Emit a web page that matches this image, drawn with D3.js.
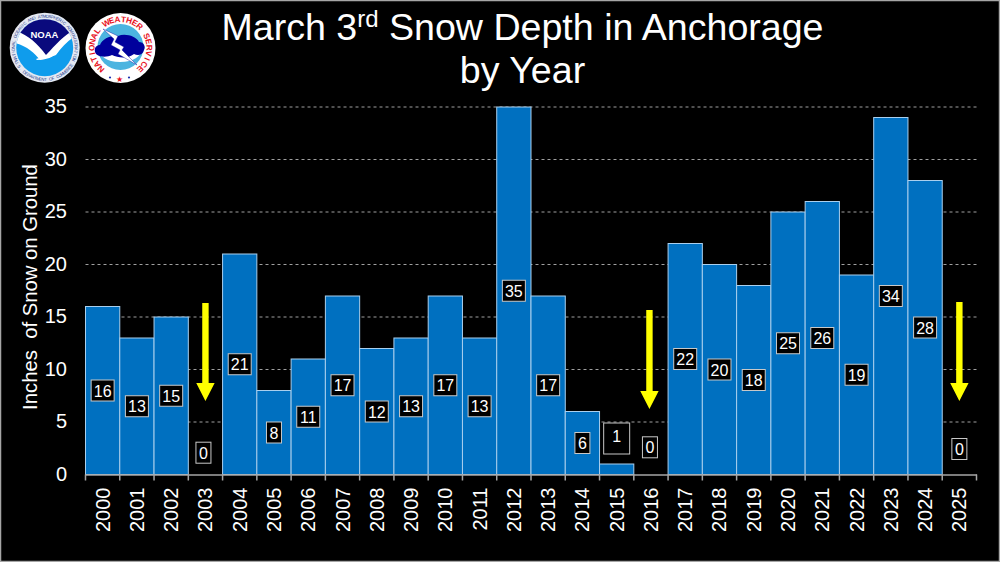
<!DOCTYPE html>
<html>
<head>
<meta charset="utf-8">
<script src="https://d3js.org/d3.v7.min.js"></script>
<style>
  html, body { margin: 0; padding: 0; background: #000; overflow: hidden; }
  svg { display: block; }
  text { font-family: "Liberation Sans", Arial, sans-serif; }
</style>
</head>
<body>
<script>
let years = ["2000","2001","2002","2003","2004","2005","2006","2007","2008","2009","2010","2011","2012",
  "2013","2014","2015","2016","2017","2018","2019","2020","2021","2022","2023","2024","2025"];
let snowDepth = [16,13,15,0,21,8,11,17,12,13,17,13,35,17,6,1,0,22,20,18,25,26,19,34,28,0];
let yTicks = [0,5,10,15,20,25,30,35];
let arrowYears = ["2003","2016","2025"];

let canvasW = 1000;
let canvasH = 562;
let plotL = 85.5, plotR = 976.5, plotT = 107, plotB = 474.5;

let svg = d3.select("body").append("svg")
  .attr("width", canvasW)
  .attr("height", canvasH)
  .style("background-color", "#000");

// thin grey frame around the slide
svg.append("rect")
  .attr("x", 0.5).attr("y", 0.5)
  .attr("width", canvasW - 1).attr("height", canvasH - 1)
  .attr("fill", "none").attr("stroke", "#a6a6a6").attr("stroke-width", 1.5);

let x = d3.scaleBand().domain(years).range([plotL, plotR]).padding(0);
let y = d3.scaleLinear().domain([0, 35]).range([plotB, plotT]);

// gridlines
svg.append("g").selectAll("line")
  .data(yTicks.filter(d => d > 0))
  .enter().append("line")
  .attr("x1", plotL).attr("x2", plotR)
  .attr("y1", d => y(d)).attr("y2", d => y(d))
  .attr("stroke", "#a0a0a0")
  .attr("stroke-width", 1)
  .attr("stroke-dasharray", "3,3");

// bars
svg.append("g").selectAll("rect")
  .data(years)
  .enter().append("rect")
  .attr("x", d => x(d))
  .attr("y", (d, i) => y(snowDepth[i]))
  .attr("width", x.bandwidth())
  .attr("height", (d, i) => plotB - y(snowDepth[i]))
  .attr("fill", "#0070c0")
  .attr("stroke", (d, i) => snowDepth[i] > 0 ? "#a9cfee" : "none")
  .attr("stroke-width", 1);

// y axis
let yAxis = svg.append("g")
  .attr("transform", "translate(" + plotL + ",-0.5)")
  .call(d3.axisLeft(y).tickValues(yTicks).tickSize(0).tickPadding(18.5));
yAxis.select(".domain").remove();
yAxis.selectAll("text")
  .attr("fill", "#fff")
  .attr("font-size", "20px")
  .style("font-family", '"Liberation Sans", Arial, sans-serif');

// x axis, labels rotated and ticks on the band edges
let xAxis = svg.append("g")
  .attr("transform", "translate(0," + plotB + ")")
  .call(d3.axisBottom(x).tickSize(0).tickPadding(0));
xAxis.select(".domain").attr("stroke", "#a6a6a6").attr("stroke-width", 1.5);
xAxis.selectAll("text")
  .attr("fill", "#fff")
  .attr("font-size", "20px")
  .attr("text-anchor", "end")
  .attr("dy", "0")
  .attr("transform", "translate(7,13) rotate(-90)")
  .attr("y", 0)
  .style("font-family", '"Liberation Sans", Arial, sans-serif');
xAxis.selectAll(".edge")
  .data(years.concat("end"))
  .enter().append("line")
  .attr("class", "edge")
  .attr("x1", d => d === "end" ? plotR : x(d))
  .attr("x2", d => d === "end" ? plotR : x(d))
  .attr("y1", 0).attr("y2", 6)
  .attr("stroke", "#a6a6a6").attr("stroke-width", 1.5);

svg.append("text")
  .attr("transform", "translate(37,287) rotate(-90)")
  .attr("text-anchor", "middle")
  .attr("font-size", "20.3px")
  .attr("fill", "#fff")
  .style("white-space", "pre")
  .text("Inches  of Snow on Ground");

// value boxes, middle of the bar, zero years float above the axis
let lowBox = { "2003": 452.7, "2015": 439, "2016": 447.3, "2025": 449 };
let boxShift = { "2003": -2, "2016": -1 };
let boxes = svg.append("g").selectAll("g")
  .data(years)
  .enter().append("g")
  .attr("transform", (d, i) => {
    let cx = x(d) + x.bandwidth() / 2 + (boxShift[d] || 0);
    let cy = lowBox[d] || y(snowDepth[i] / 2);
    return "translate(" + cx + "," + cy + ")";
  });
boxes.append("rect")
  .attr("x", (d, i) => d === "2015" ? -13 : (snowDepth[i] < 10 ? -7.5 : -11.5))
  .attr("y", d => d === "2015" ? -16 : -10.5)
  .attr("width", (d, i) => d === "2015" ? 26 : (snowDepth[i] < 10 ? 15 : 23))
  .attr("height", d => d === "2015" ? 31 : 21)
  .attr("fill", "#000")
  .attr("stroke", "#c8c8c8")
  .attr("stroke-width", 1);
boxes.append("text")
  .attr("text-anchor", "middle")
  .attr("y", d => d === "2015" ? 3 : 6)
  .attr("font-size", "16px")
  .attr("fill", "#fff")
  .text((d, i) => snowDepth[i]);

// yellow arrows over the zero years
let arrowTop = { "2003": 303, "2016": 310, "2025": 302 };
let arrowTip = { "2003": 401, "2016": 409, "2025": 401 };
let arrowOffset = { "2003": 0, "2016": -1.5, "2025": 0 };
svg.append("g").selectAll("path")
  .data(arrowYears)
  .enter().append("path")
  .attr("fill", "#ffff00")
  .attr("d", d => {
    let cx = x(d) + x.bandwidth() / 2 + arrowOffset[d];
    let t = arrowTop[d], b = arrowTip[d];
    return "M" + (cx - 3.2) + "," + t + "H" + (cx + 3.2) + "V" + (b - 18) + "H" + (cx + 9.2) +
      "L" + cx + "," + b + "L" + (cx - 9.2) + "," + (b - 18) + "H" + (cx - 3.2) + "Z";
  });

// title
let title = svg.append("text")
  .attr("text-anchor", "middle")
  .attr("fill", "#fff")
  .attr("font-size", "37.6px");
let line1 = title.append("tspan").attr("x", 522.5).attr("y", 40);
line1.append("tspan").text("March 3");
line1.append("tspan").attr("dy", -13).attr("font-size", "24px").text("rd");
line1.append("tspan").attr("dy", 13).text(" Snow Depth in Anchorage");
title.append("tspan").attr("x", 522.5).attr("y", 83).text("by Year");

// letters set one by one around a logo ring, 0 degrees is straight up
function ringText(parent, str, cx, cy, r, startDeg, stepDeg, size, color, weight, flip) {
  parent.append("g").selectAll("text")
    .data(str.split("").map((c, i) => ({ c: c, a: startDeg + i * stepDeg })).filter(d => d.c !== " "))
    .enter().append("text")
    .attr("text-anchor", "middle")
    .attr("font-size", size + "px")
    .attr("font-weight", weight)
    .attr("fill", color)
    .attr("transform", d => "translate(" + cx + "," + cy + ") rotate(" + d.a + ") translate(0," + (-r) + ")" + (flip ? " rotate(180)" : ""))
    .text(d => d.c);
}

// NOAA logo
let defs = svg.append("defs");
defs.append("clipPath").attr("id", "noaaClip")
  .append("circle").attr("cx", 44.7).attr("cy", 47.7).attr("r", 28.5);

let noaa = svg.append("g");
noaa.append("circle").attr("cx", 44.7).attr("cy", 47.7).attr("r", 35).attr("fill", "#e4e8f2");
let inner = noaa.append("g").attr("clip-path", "url(#noaaClip)");
inner.append("rect").attr("x", 10).attr("y", 15).attr("width", 70).attr("height", 70).attr("fill", "#0f9cec");
inner.append("path").attr("fill", "#fff")
  .attr("d", "M10,10 H80 V34 C70,38 62,47 56,55 C50,57 47,58 40,60 C34,52 24,44 10,42 Z");
inner.append("path").attr("fill", "#0a0a7d")
  .attr("d", "M10,10 H80 V27 C68,31 58,42 46,55 C36,42 26,33 10,29 Z");
inner.append("path").attr("fill", "#fff")
  .attr("d", "M36,59 C42,57 50,56 58,52 C54,57 46,60 37,60 Z");
noaa.append("text").attr("x", 44.5).attr("y", 38).attr("text-anchor", "middle")
  .attr("font-size", "9.5px").attr("font-weight", "bold").attr("fill", "#fff").text("NOAA");
ringText(noaa, "NATIONAL OCEANIC AND ATMOSPHERIC ADMINISTRATION", 44.7, 47.7, 30, -113, 4.9, 4.3, "#1f3f8f", "normal", false);
ringText(noaa, "U.S. DEPARTMENT OF COMMERCE", 44.7, 47.7, 33.2, 243, -4.6, 4.3, "#1f3f8f", "normal", true);

// NWS logo
let nws = svg.append("g");
nws.append("circle").attr("cx", 120.5).attr("cy", 48).attr("r", 35).attr("fill", "#fff");
nws.append("circle").attr("cx", 120.5).attr("cy", 47).attr("r", 23).attr("fill", "#4cb4e0");
nws.append("path").attr("fill", "#fff")
  .attr("d", "M100,50 H141 C141,56 134,62 120,62 C106,62 100,56 100,50 Z");
nws.append("path").attr("fill", "#00009c")
  .attr("d", "M95,52 C94,47 97,45 100,45 C102,39 111,35 118,36 C125,33 136,36 139,42 C144,42 146,47 144,50 C143,55 138,56 134,54 C128,59 118,58 112,55 C106,58 96,57 95,52 Z");
nws.append("path").attr("fill", "#fff").attr("stroke", "#00009c").attr("stroke-width", 0.4)
  .attr("d", "M103,29 L118,36 L115,42 L124,47 L122,50 L137,65 L118,54 L120,50 L111,45 L114,39 Z");
ringText(nws, "NATIONAL WEATHER SERVICE", 120.5, 48, 26, -137, 11.9, 8.2, "#e8101c", "bold", false);
nws.append("text").attr("x", 119.5).attr("y", 81.5).attr("text-anchor", "middle")
  .attr("font-size", "8px").attr("fill", "#e8101c").text("\u2605");
nws.selectAll(".dot").data([110, 129]).enter().append("circle")
  .attr("class", "dot")
  .attr("cx", d => d).attr("cy", 77.5).attr("r", 1.1).attr("fill", "#1a2fb0");
</script>
</body>
</html>
